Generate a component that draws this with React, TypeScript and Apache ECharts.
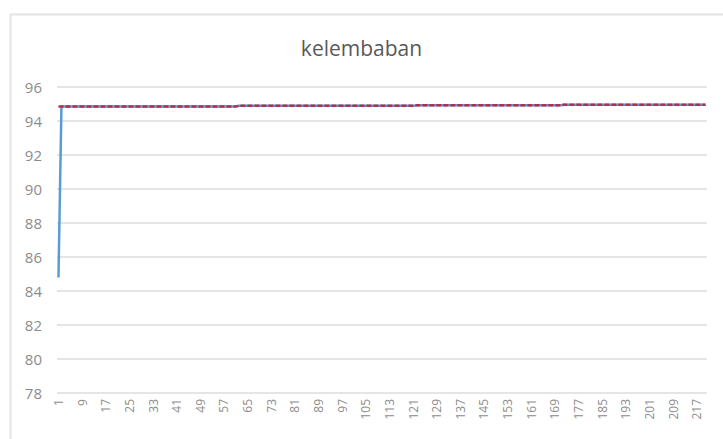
import React, { useEffect, useRef } from "react";
import * as echarts from "echarts";

const TITLE = "kelembaban";
const CATEGORY_COUNT = 220;
const categories: string[] = Array.from({ length: CATEGORY_COUNT }, (_, i) => String(i + 1));

// run-length encoded values: [value, count]
const blueRuns: [number, number][] = [
  [84.8, 1],
  [94.86, 60],
  [94.89, 60],
  [94.92, 50],
  [94.95, 49],
];
const redRuns: [number, number][] = [
  [94.86, 61],
  [94.89, 60],
  [94.92, 50],
  [94.95, 49],
];

const yMin = 78;
const yMax = 96;
const yStep = 2;

function expand(runs: [number, number][]): number[] {
  const out: number[] = [];
  runs.forEach(([v, n]) => {
    for (let i = 0; i < n; i++) out.push(v);
  });
  return out;
}

export default function App() {
  const ref = useRef<HTMLDivElement>(null);
  useEffect(() => {
    document.body.style.margin = "0";
    if (!ref.current) return;
    const chart = echarts.init(ref.current, undefined, { renderer: "svg" });
    const font = "'Open Sans', 'Noto Sans', sans-serif";
    chart.setOption({
      animation: false,
      backgroundColor: "#ffffff",
      title: {
        text: TITLE,
        left: "center",
        top: 32,
        textStyle: { fontFamily: font, fontSize: 21, fontWeight: "normal", color: "#595959" },
      },
      graphic: [
        {
          type: "rect",
          shape: { x: 10.5, y: 14.5, width: 740, height: 440 },
          style: { fill: "none", stroke: "#e3e3e3", lineWidth: 2 },
          silent: true,
        },
      ],
      grid: { left: 57, right: 16, top: 87, bottom: 46, containLabel: false },
      xAxis: {
        type: "category",
        data: categories,
        boundaryGap: true,
        axisLine: { show: false },
        axisTick: { show: false },
        axisLabel: {
          rotate: 90,
          interval: 7,
          fontFamily: font,
          fontSize: 12,
          color: "#8c8c8c",
          margin: 6,
        },
        splitLine: { show: false },
      },
      yAxis: {
        type: "value",
        min: yMin,
        max: yMax,
        interval: yStep,
        axisLine: { show: false },
        axisTick: { show: false },
        axisLabel: { fontFamily: font, fontSize: 15, color: "#8c8c8c", margin: 15 },
        splitLine: { lineStyle: { color: "#dcdcdc", width: 1.5 } },
      },
      series: [
        {
          type: "line",
          data: expand(blueRuns),
          symbol: "none",
          lineStyle: { color: "#5b9bd5", width: 2.5 },
          z: 2,
        },
        {
          type: "line",
          data: expand(redRuns),
          symbol: "none",
          lineStyle: { color: "#b0304f", width: 2.5, type: [5, 2] },
          z: 3,
        },
      ],
    });
    return () => chart.dispose();
  }, []);
  return <div ref={ref} style={{ width: 723, height: 439 }} />;
}
